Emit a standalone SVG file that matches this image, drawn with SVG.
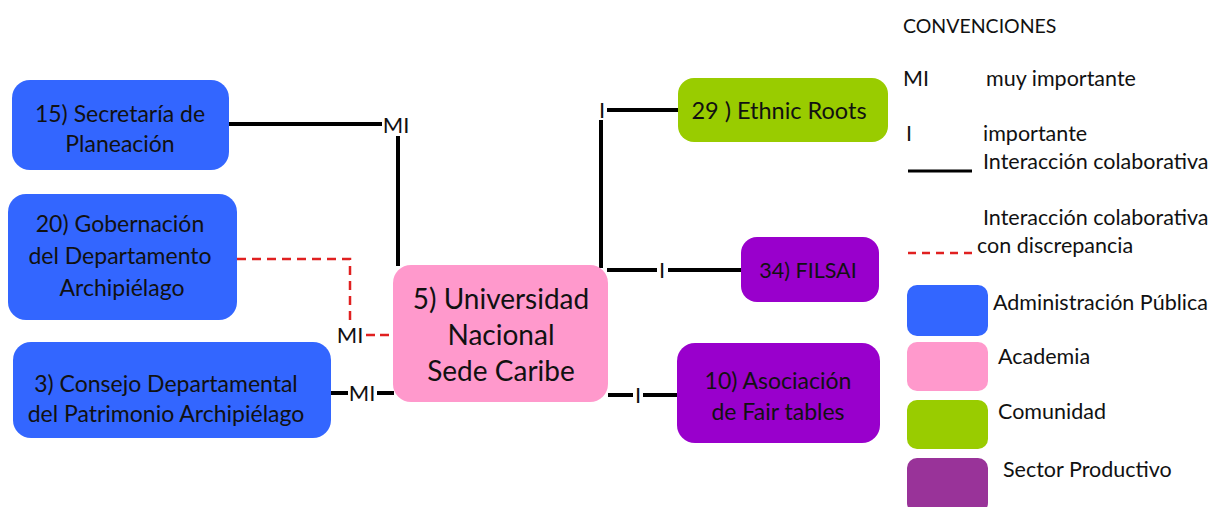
<svg xmlns="http://www.w3.org/2000/svg" width="1221" height="507" viewBox="0 0 1221 507">
<style>
text{font-family:Lato,"Open Sans","Liberation Sans",sans-serif;fill:#111}
.n{font-size:23px;text-anchor:middle}
.big{font-size:28px;text-anchor:middle}
.lab{font-size:22px;text-anchor:middle}
.lg{font-size:21.5px}
.blue{fill:#3366FF}
.pink{fill:#FF99CC}
.green{fill:#99CC00}
.purple{fill:#9900CC}
.lpurple{fill:#993399}
.c{fill:none;stroke:#000;stroke-width:4}
.d{fill:none;stroke:#E02020;stroke-width:2.5;stroke-dasharray:9 6}
</style>
<rect width="1221" height="507" fill="#fff"/>
<g id="connectors">
<path class="c" d="M229 124H382"/>
<path class="c" d="M398 136V266"/>
<path class="d" d="M237 259H350V326"/>
<path class="d" d="M366 335H393" style="stroke-dasharray:9 5"/>
<path class="c" d="M331 393H348"/>
<path class="c" d="M377 393H394"/>
<path class="c" d="M601 120V268"/>
<path class="c" d="M607 110H678"/>
<path class="c" d="M607 270H657"/>
<path class="c" d="M668 270H741"/>
<path class="c" d="M608 395H633"/>
<path class="c" d="M643 395H677"/>
<text class="lab" x="396" y="133">MI</text>
<text class="lab" x="350" y="343">MI</text>
<text class="lab" x="362" y="401">MI</text>
<text class="lab" x="602" y="118">I</text>
<text class="lab" x="662" y="278">I</text>
<text class="lab" x="638" y="403">I</text>
</g>
<g id="n15"><rect class="blue" x="12" y="80" width="217" height="90" rx="18"/><text class="n" x="120" y="122">15) Secretaría de</text><text class="n" x="120" y="152">Planeación</text></g>
<g id="n20"><rect class="blue" x="8" y="194" width="229" height="126" rx="18"/><text class="n" x="120" y="232">20) Gobernación</text><text class="n" x="120" y="264">del Departamento</text><text class="n" x="122" y="296">Archipiélago</text></g>
<g id="n3"><rect class="blue" x="13" y="342" width="318" height="96" rx="18"/><text class="n" x="166" y="392">3) Consejo Departamental</text><text class="n" x="166" y="422">del Patrimonio Archipiélago</text></g>
<g id="n5"><rect class="pink" x="393" y="265" width="215" height="137" rx="18"/><text class="big" x="501" y="309">5) Universidad</text><text class="big" x="501" y="345">Nacional</text><text class="big" x="501" y="381">Sede Caribe</text></g>
<g id="n29"><rect class="green" x="678" y="78" width="210" height="64" rx="16"/><text class="n" x="779" y="119" style="font-size:23.5px">29 ) Ethnic Roots</text></g>
<g id="n34"><rect class="purple" x="741" y="237" width="138" height="65" rx="16"/><text class="n" x="808" y="278" style="font-size:21.5px">34) FILSAI</text></g>
<g id="n10"><rect class="purple" x="677" y="343" width="203" height="100" rx="18"/><text class="n" x="778" y="389">10) Asociación</text><text class="n" x="778" y="420">de Fair tables</text></g>
<g id="legend">
<text class="lg" x="903" y="33" style="font-size:19.5px">CONVENCIONES</text>
<text class="lg" x="903" y="86">MI</text>
<text class="lg" x="986" y="86">muy importante</text>
<text class="lg" x="906" y="141">I</text>
<text class="lg" x="983" y="141">importante</text>
<path class="c" d="M908 171H972" style="stroke-width:3"/>
<text class="lg" x="983" y="169">Interacción colaborativa</text>
<text class="lg" x="983" y="225">Interacción colaborativa</text>
<path class="d" d="M908 253H972" style="stroke-dasharray:8 6"/>
<text class="lg" x="977" y="253">con discrepancia</text>
<rect class="blue" x="907" y="285" width="81" height="51" rx="10"/>
<text class="lg" x="993" y="310">Administración Pública</text>
<rect class="pink" x="907" y="342" width="81" height="49" rx="10"/>
<text class="lg" x="998" y="364">Academia</text>
<rect class="green" x="907" y="400" width="81" height="49" rx="10"/>
<text class="lg" x="998" y="419">Comunidad</text>
<rect class="lpurple" x="907" y="458" width="81" height="55" rx="10"/>
<text class="lg" x="1003" y="477">Sector Productivo</text>
</g>
</svg>
